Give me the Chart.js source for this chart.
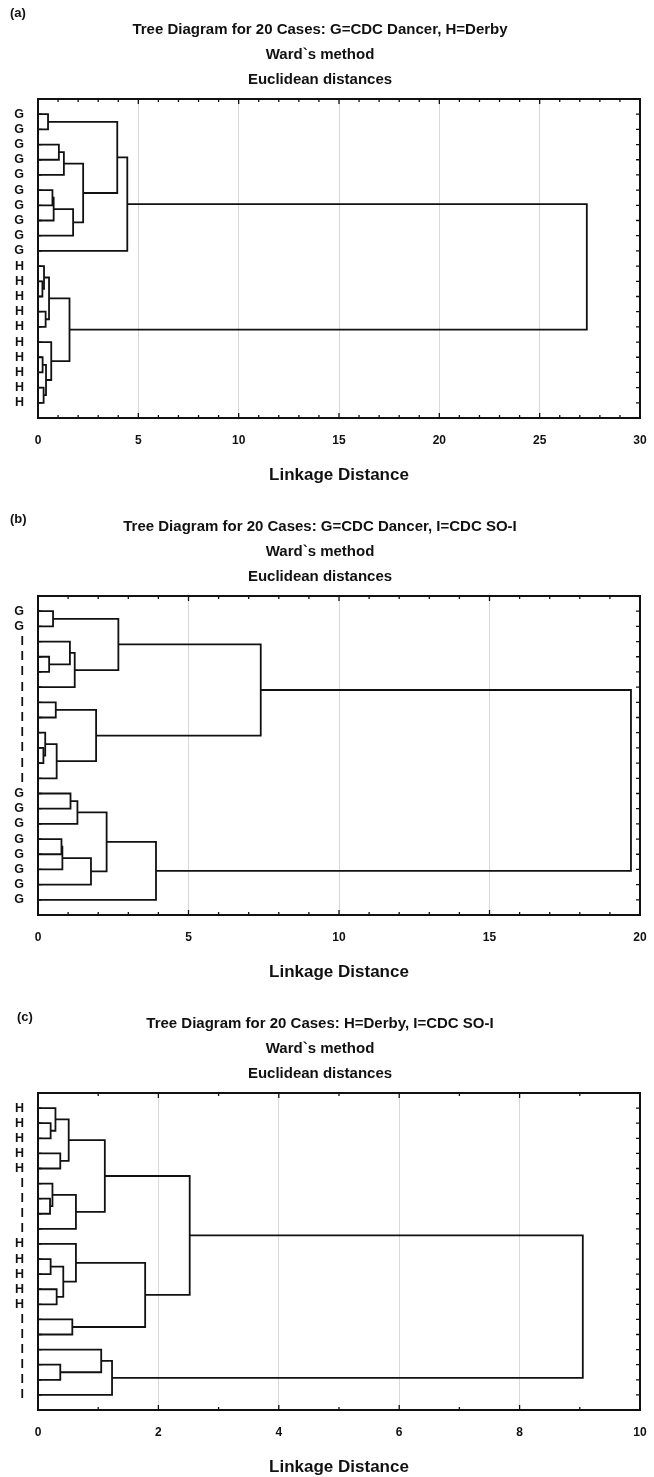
<!DOCTYPE html>
<html>
<head>
<meta charset="utf-8">
<title>Tree Diagrams</title>
<script src="https://cdn.jsdelivr.net/npm/chart.js@4.4.1/dist/chart.umd.min.js"></script>
<style>
  body { margin: 0; background: #fff; width: 654px; height: 1477px; position: relative; overflow: hidden; }
  canvas { position: absolute; left: 0; }
</style>
</head>
<body>
<canvas id="chartA" width="654" height="490" style="top:0px"></canvas>
<canvas id="chartB" width="654" height="490" style="top:497px"></canvas>
<canvas id="chartC" width="654" height="488" style="top:994px"></canvas>
<script>
// leaf labels, top to bottom
const leavesA = ['G','G','G','G','G','G','G','G','G','G','H','H','H','H','H','H','H','H','H','H'];
const leavesB = ['G','G','I','I','I','I','I','I','I','I','I','I','G','G','G','G','G','G','G','G'];
const leavesC = ['H','H','H','H','H','I','I','I','I','H','H','H','H','H','I','I','I','I','I','I'];

// joins: [left node, right node, linkage distance]; nodes 0-19 are leaves, 20+ are earlier joins
const mergesA = [
  [0, 1, 0.50], [2, 3, 1.04], [21, 4, 1.29], [5, 6, 0.72], [23, 7, 0.78],
  [24, 8, 1.75], [22, 25, 2.25], [20, 26, 3.95], [27, 9, 4.45],
  [11, 12, 0.22], [10, 29, 0.30], [13, 14, 0.38], [30, 31, 0.55],
  [16, 17, 0.23], [18, 19, 0.28], [33, 34, 0.40], [15, 35, 0.66],
  [32, 36, 1.57], [28, 37, 27.35]
];
const mergesB = [
  [0, 1, 0.50], [3, 4, 0.37], [2, 21, 1.06], [22, 5, 1.22], [20, 23, 2.67],
  [6, 7, 0.59], [9, 10, 0.18], [8, 26, 0.24], [27, 11, 0.62], [25, 28, 1.93],
  [24, 29, 7.4],
  [12, 13, 1.08], [31, 14, 1.31], [15, 16, 0.78], [33, 17, 0.81], [34, 18, 1.76],
  [32, 35, 2.28], [36, 19, 3.92], [30, 37, 19.7]
];
const mergesC = [
  [1, 2, 0.21], [0, 20, 0.29], [3, 4, 0.37], [21, 22, 0.51],
  [6, 7, 0.20], [5, 24, 0.24], [25, 8, 0.63], [23, 26, 1.11],
  [10, 11, 0.21], [12, 13, 0.31], [28, 29, 0.42], [9, 30, 0.63],
  [14, 15, 0.57], [31, 32, 1.78], [27, 33, 2.52],
  [17, 18, 0.37], [16, 35, 1.05], [36, 19, 1.23], [34, 37, 9.05]
];

const titlesA = ['Tree Diagram for 20 Cases: G=CDC Dancer, H=Derby', 'Ward`s method', 'Euclidean distances'];
const titlesB = ['Tree Diagram for 20 Cases: G=CDC Dancer, I=CDC SO-I', 'Ward`s method', 'Euclidean distances'];
const titlesC = ['Tree Diagram for 20 Cases: H=Derby, I=CDC SO-I', 'Ward`s method', 'Euclidean distances'];

// x axis: max, labelled step
const axisA = [30, 5];
const axisB = [20, 5];
const axisC = [10, 2];

const FONT = '"Liberation Sans", Arial, Helvetica, sans-serif';
const INK = '#111';

// each join becomes a bracket: child -> join height -> other child
function linkSegments(merges, n) {
  const pos = [], hgt = [];
  for (let i = 0; i < n; i++) { pos.push(i + 1); hgt.push(0); }
  return merges.map(([a, b, h]) => {
    const seg = [
      { x: hgt[a], y: pos[a] }, { x: h, y: pos[a] },
      { x: h, y: pos[b] }, { x: hgt[b], y: pos[b] }
    ];
    pos.push((pos[a] + pos[b]) / 2);
    hgt.push(h);
    return seg;
  });
}

// frame, inward ticks and the panel letter
const frameTicks = {
  id: 'frameTicks',
  afterDatasetsDraw(chart, args, opts) {
    const { ctx, chartArea: a, scales: { x, y } } = chart;
    ctx.save();
    ctx.strokeStyle = INK;
    ctx.lineWidth = 1.3;
    ctx.beginPath();
    for (let v = x.min; v <= x.max + 1e-9; v += 1) {
      const px = x.getPixelForValue(v);
      const len = (v % opts.major === 0) ? 5 : 3;
      ctx.moveTo(px, a.top); ctx.lineTo(px, a.top + len);
      ctx.moveTo(px, a.bottom); ctx.lineTo(px, a.bottom - len);
    }
    for (let i = 1; i <= opts.count; i++) {
      const py = y.getPixelForValue(i);
      ctx.moveTo(a.left, py); ctx.lineTo(a.left + 4, py);
      ctx.moveTo(a.right, py); ctx.lineTo(a.right - 4, py);
    }
    ctx.stroke();
    ctx.lineWidth = 2;
    ctx.strokeRect(a.left, a.top, a.right - a.left, a.bottom - a.top);
    ctx.fillStyle = INK;
    ctx.font = 'bold 13px ' + FONT;
    ctx.textBaseline = 'middle';
    ctx.textAlign = 'left';
    ctx.fillText(opts.tag, opts.tagX, opts.tagY);
    ctx.restore();
  }
};

function makeTree(id, leaves, merges, titles, axis, tag) {
  const [xmax, step] = axis;
  const datasets = linkSegments(merges, leaves.length).map(seg => ({
    data: seg,
    showLine: true,
    borderColor: INK,
    borderWidth: 1.8,
    pointRadius: 0,
    tension: 0,
    fill: false
  }));
  return new Chart(document.getElementById(id), {
    type: 'scatter',
    data: { datasets },
    options: {
      responsive: false,
      animation: false,
      events: [],
      layout: { padding: { left: 0, right: 14, top: 0, bottom: 0 } },
      plugins: {
        legend: { display: false },
        tooltip: { enabled: false },
        title: {
          display: true,
          text: titles,
          color: INK,
          font: { family: FONT, size: 15, weight: 'bold', lineHeight: 25 / 15 },
          padding: { top: 17, bottom: 7 }
        },
        frameTicks: Object.assign({ major: step, count: leaves.length }, tag)
      },
      scales: {
        x: {
          type: 'linear',
          min: 0,
          max: xmax,
          border: { display: false },
          grid: {
            drawTicks: true,
            tickLength: 14,
            tickColor: 'rgba(0,0,0,0)',
            lineWidth: 1,
            color: c => (c.tick && c.tick.value > 0 && c.tick.value < xmax) ? '#d9d9d9' : 'rgba(0,0,0,0)'
          },
          ticks: {
            stepSize: step,
            padding: 1,
            color: INK,
            font: { family: FONT, size: 12, weight: 'bold' }
          },
          title: {
            display: true,
            text: 'Linkage Distance',
            color: INK,
            font: { family: FONT, size: 17, weight: 'bold' },
            padding: { top: 0, bottom: 4 }
          },
          afterFit: s => { s.height = 72; }
        },
        y: {
          type: 'linear',
          min: 0,
          max: leaves.length + 1,
          reverse: true,
          border: { display: false },
          grid: { display: false, drawTicks: false },
          ticks: {
            stepSize: 1,
            autoSkip: false,
            padding: 14,
            color: INK,
            font: { family: FONT, size: 12.5, weight: 'bold' },
            callback: v => leaves[v - 1] || ''
          },
          afterFit: s => { s.width = 38; }
        }
      }
    },
    plugins: [frameTicks]
  });
}

makeTree('chartA', leavesA, mergesA, titlesA, axisA, { tag: '(a)', tagX: 10, tagY: 13 });
makeTree('chartB', leavesB, mergesB, titlesB, axisB, { tag: '(b)', tagX: 10, tagY: 22 });
makeTree('chartC', leavesC, mergesC, titlesC, axisC, { tag: '(c)', tagX: 17, tagY: 23 });
</script>
</body>
</html>
